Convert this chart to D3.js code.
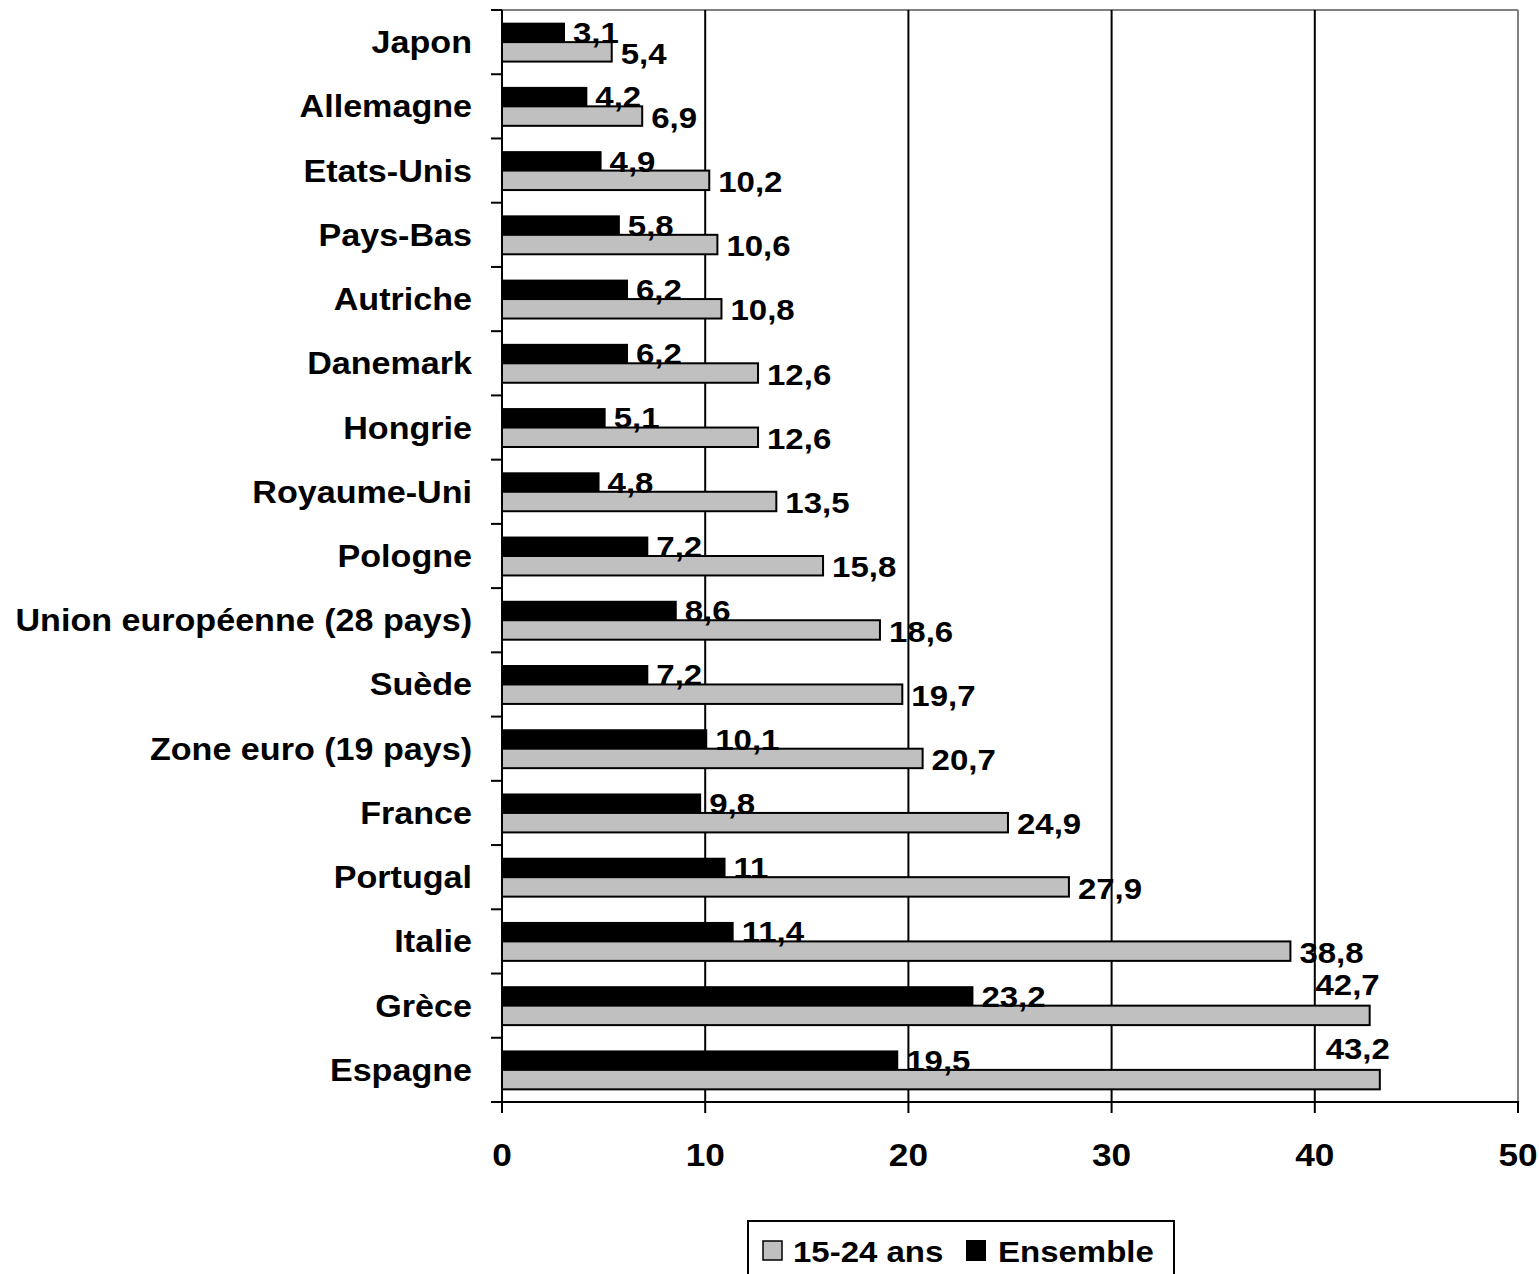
<!DOCTYPE html>
<html><head><meta charset="utf-8">
<script src="https://cdn.jsdelivr.net/npm/d3@7"></script>
<style>body{margin:0;background:#fff}svg{display:block}text{font-family:"Liberation Sans",Arial,sans-serif;font-weight:bold;fill:#000}</style>
</head><body>
<svg id="c" width="1539" height="1274"></svg>
<script>
const categories = ["Japon","Allemagne","Etats-Unis","Pays-Bas","Autriche","Danemark","Hongrie","Royaume-Uni","Pologne","Union européenne (28 pays)","Suède","Zone euro (19 pays)","France","Portugal","Italie","Grèce","Espagne"];
const youth = [5.4,6.9,10.2,10.6,10.8,12.6,12.6,13.5,15.8,18.6,19.7,20.7,24.9,27.9,38.8,42.7,43.2];
const ensemble = [3.1,4.2,4.9,5.8,6.2,6.2,5.1,4.8,7.2,8.6,7.2,10.1,9.8,11,11.4,23.2,19.5];
const xTicks = [0,10,20,30,40,50];
const seriesNames = ["15-24 ans","Ensemble"];

const SX = 1.1;
const svg = d3.select("#c");
const x = d3.scaleLinear().domain([0,50]).range([502,1518]);
const y = d3.scaleBand().domain(categories).range([10,1102]).paddingInner(0);
const bh = y.bandwidth()*0.303;
const fmt = v => String(v).replace(".", ",");

function txt(g, s, px, py, size, anchor){
  return g.append("text").attr("transform",`translate(${px},${py}) scale(${SX},1)`)
    .attr("text-anchor",anchor||"start").attr("dy","0.355em").style("font-size",size+"px").text(s);
}

// top / right border (gray)
svg.append("line").attr("x1",x(0)).attr("x2",x(50)).attr("y1",10).attr("y2",10).attr("stroke","#808080").attr("stroke-width",2);
svg.append("line").attr("x1",x(50)).attr("x2",x(50)).attr("y1",10).attr("y2",1102).attr("stroke","#808080").attr("stroke-width",2);
// grid lines
svg.append("g").selectAll("line").data(xTicks.filter(t=>t>0&&t<50)).join("line")
  .attr("x1",d=>x(d)).attr("x2",d=>x(d)).attr("y1",10).attr("y2",1102).attr("stroke","#000").attr("stroke-width",2);

// bars
const rows = svg.append("g").selectAll("g").data(categories).join("g");
rows.append("rect").attr("x",x(0)).attr("y",d=>y(d)+y.bandwidth()/2-bh)
  .attr("width",(d,i)=>x(ensemble[i])-x(0)).attr("height",bh).attr("fill","#000");
rows.append("rect").attr("x",x(0)).attr("y",d=>y(d)+y.bandwidth()/2)
  .attr("width",(d,i)=>x(youth[i])-x(0)).attr("height",bh).attr("fill","#c0c0c0").attr("stroke","#000").attr("stroke-width",2);

// value labels
categories.forEach((c,i)=>{
  const cy = y(c)+y.bandwidth()/2;
  txt(svg, fmt(ensemble[i]), x(ensemble[i])+8, cy-bh/2, 30, "start");
  if (youth[i] > 40) {
    txt(svg, fmt(youth[i]), x(youth[i])+10, cy-bh-2, 30, "end");
  } else {
    txt(svg, fmt(youth[i]), x(youth[i])+9, cy+bh/2+1, 30, "start");
  }
});

// y axis
const ya = svg.append("g");
ya.append("line").attr("x1",x(0)).attr("x2",x(0)).attr("y1",10).attr("y2",1102).attr("stroke","#000").attr("stroke-width",2);
const bounds = categories.map(c=>y(c)).concat([1102]);
ya.selectAll("line.t").data(bounds).join("line").attr("class","t")
  .attr("x1",491).attr("x2",x(0)).attr("y1",d=>d).attr("y2",d=>d).attr("stroke","#000").attr("stroke-width",2);
categories.forEach(c=>txt(ya, c, 472, y(c)+y.bandwidth()/2, 31, "end"));

// x axis
const xa = svg.append("g");
xa.append("line").attr("x1",x(0)-1).attr("x2",x(50)+1).attr("y1",1102).attr("y2",1102).attr("stroke","#000").attr("stroke-width",2);
xa.selectAll("line.t").data(xTicks).join("line").attr("class","t")
  .attr("x1",d=>x(d)).attr("x2",d=>x(d)).attr("y1",1102).attr("y2",1113).attr("stroke","#000").attr("stroke-width",2);
xTicks.forEach(t=>txt(xa, String(t), x(t), 1155, 32, "middle"));

// legend
const lg = svg.append("g");
lg.append("rect").attr("x",748).attr("y",1221).attr("width",426).attr("height",80).attr("fill","#fff").attr("stroke","#000").attr("stroke-width",2);
lg.append("rect").attr("x",763).attr("y",1241).attr("width",19).attr("height",19).attr("fill","#c0c0c0").attr("stroke","#000").attr("stroke-width",1.5);
txt(lg, seriesNames[0], 793, 1251, 30, "start");
lg.append("rect").attr("x",966).attr("y",1240).attr("width",20).attr("height",21).attr("fill","#000");
txt(lg, seriesNames[1], 998, 1251, 30, "start");
</script>
</body></html>
